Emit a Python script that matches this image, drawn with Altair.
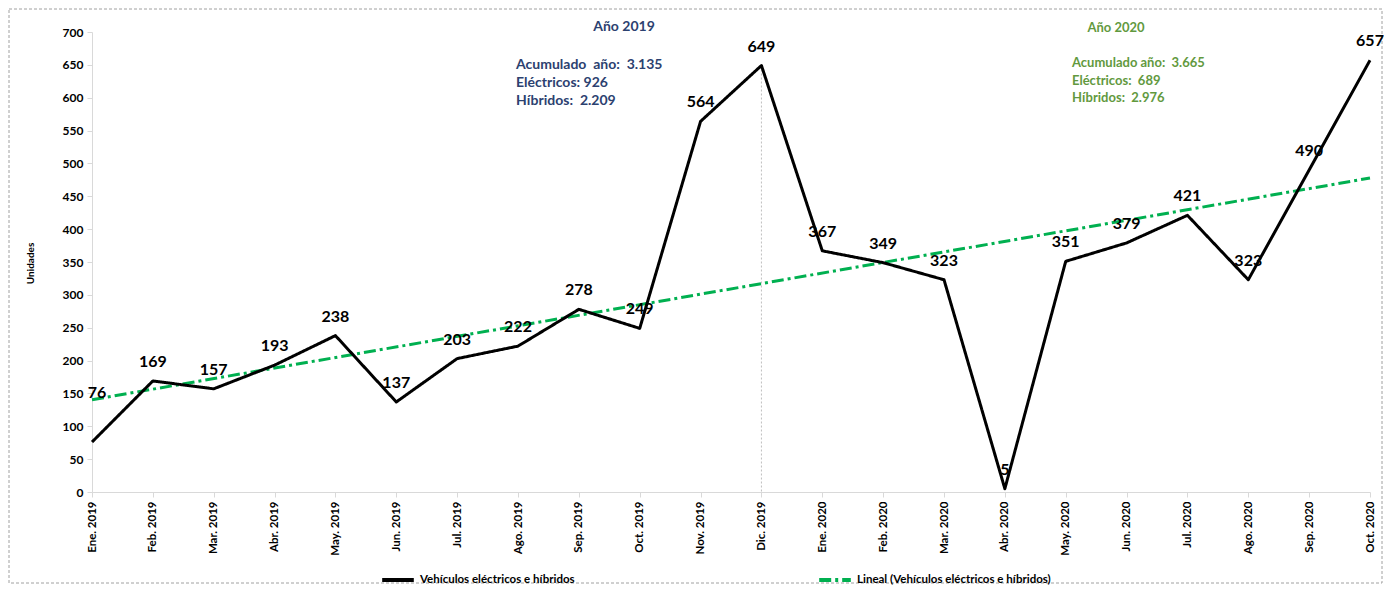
import json
import altair as alt
import pandas as pd

# ---------------- data ----------------
months = ["Ene. 2019", "Feb. 2019", "Mar. 2019", "Abr. 2019", "May. 2019", "Jun. 2019",
          "Jul. 2019", "Ago. 2019", "Sep. 2019", "Oct. 2019", "Nov. 2019", "Dic. 2019",
          "Ene. 2020", "Feb. 2020", "Mar. 2020", "Abr. 2020", "May. 2020", "Jun. 2020",
          "Jul. 2020", "Ago. 2020", "Sep. 2020", "Oct. 2020"]
values = [76, 169, 157, 193, 238, 137, 203, 222, 278, 249, 564, 649,
          367, 349, 323, 5, 351, 379, 421, 323, 490, 657]
serie_main = "Vehículos eléctricos e híbridos"
serie_trend = "Lineal (Vehículos eléctricos e híbridos)"
drop_month_index = 11
y_ticks = list(range(0, 701, 50))
title_2019 = "Año 2019"
notes_2019 = ["Acumulado\u00a0 año:\u00a0 3.135", "Eléctricos: 926", "Híbridos:\u00a0 2.209"]
title_2020 = "Año 2020"
notes_2020 = ["Acumulado año:\u00a0 3.665", "Eléctricos:\u00a0 689", "Híbridos:\u00a0 2.976"]
y_title = "Unidades"

df = pd.DataFrame({"i": list(range(len(months))), "value": values})
one = pd.DataFrame({"a": [0]})

# ---------------- style ----------------
W, H = 1278, 460
FONT = "Lato"
NAVY = "#2C4170"
GREEN_TXT = "#62993E"
GREEN_LINE = "#00B050"
AXIS_GRAY = "#d9d9d9"

x_scale = alt.Scale(domain=[0, len(months) - 1], nice=False, zero=False)
y_scale = alt.Scale(domain=[0, 700], nice=False)
label_expr = json.dumps(months, ensure_ascii=False) + "[datum.value]"

x_axis = alt.Axis(values=list(range(len(months))), labelExpr=label_expr, labelAngle=-90,
                  title=None, grid=False, tickSize=5, tickColor=AXIS_GRAY,
                  domainColor=AXIS_GRAY, labelFont=FONT, labelFontWeight="bold",
                  labelFontSize=11.5, labelColor="#000000", labelPadding=4)
y_axis = alt.Axis(values=y_ticks, title=y_title, grid=False, tickSize=5, tickColor=AXIS_GRAY,
                  domainColor=AXIS_GRAY, labelFont=FONT, labelFontWeight="bold",
                  labelFontSize=12, labelColor="#000000", labelPadding=4,
                  titleFont=FONT, titleFontSize=10, titleFontWeight="bold",
                  titleColor="#000000", titleAngle=-90, titleX=-57, titleY=231)

color_scale = alt.Scale(domain=[serie_main, serie_trend], range=["#000000", GREEN_LINE])
dash_scale = alt.Scale(domain=[serie_main, serie_trend], range=[[1, 0], [12, 4, 3, 4]])
legend = alt.Legend(title=None, orient="none", legendX=288, legendY=530,
                    direction="horizontal", columns=2, columnPadding=236,
                    symbolType="stroke", symbolSize=1000, symbolStrokeWidth=4,
                    labelFont=FONT, labelFontSize=11.5, labelFontWeight="bold",
                    labelColor="#000000", labelLimit=400)

base = alt.Chart(df)

X = alt.X("i:Q", scale=x_scale, axis=x_axis)
Y = alt.Y("value:Q", scale=y_scale, axis=y_axis)

drop = base.transform_filter(alt.datum.i == drop_month_index).mark_rule(
    color="#bfbfbf", strokeDash=[2, 2], strokeWidth=1
).encode(x=X, y=Y, y2=alt.datum(0))

trend = base.transform_regression("i", "value").transform_calculate(
    serie=json.dumps(serie_trend, ensure_ascii=False)
).mark_line(strokeWidth=3).encode(
    x=X, y=Y,
    color=alt.Color("serie:N", scale=color_scale, legend=legend),
    strokeDash=alt.StrokeDash("serie:N", scale=dash_scale, legend=legend),
)

main = base.transform_calculate(
    serie=json.dumps(serie_main, ensure_ascii=False)
).mark_line(strokeWidth=3, strokeJoin="round").encode(
    x=X, y=Y,
    color=alt.Color("serie:N", scale=color_scale, legend=legend),
    strokeDash=alt.StrokeDash("serie:N", scale=dash_scale, legend=legend),
)

labels = base.transform_filter(alt.datum.i > 0).mark_text(
    dy=-19, fontSize=16, fontWeight="bold", font=FONT, color="#000000"
).encode(x=X, y=Y, text=alt.Text("value:Q"))

# first label sits higher and to the right, as in the original
label_first = base.transform_filter(alt.datum.i == 0).mark_text(
    dx=5, dy=-49, fontSize=16, fontWeight="bold", font=FONT, color="#000000"
).encode(x=X, y=Y, text=alt.Text("value:Q"))

ann = alt.Chart(one)
t2019 = ann.mark_text(text=title_2019, font=FONT, fontSize=14, fontWeight="bold",
                      color=NAVY, align="center", baseline="middle").encode(
    x=alt.value(532), y=alt.value(-5))
n2019 = ann.mark_text(text=notes_2019, font=FONT, fontSize=14, fontWeight="bold",
                      color=NAVY, align="left", baseline="top", lineHeight=18).encode(
    x=alt.value(424), y=alt.value(26))
t2020 = ann.mark_text(text=title_2020, font=FONT, fontSize=13, fontWeight="bold",
                      color=GREEN_TXT, align="center", baseline="middle").encode(
    x=alt.value(1024), y=alt.value(-4))
n2020 = ann.mark_text(text=notes_2020, font=FONT, fontSize=13, fontWeight="bold",
                      color=GREEN_TXT, align="left", baseline="top", lineHeight=17.5).encode(
    x=alt.value(980), y=alt.value(25))

border = ann.mark_rect(fillOpacity=0, stroke="#a0a0a0", strokeDash=[3, 2],
                       strokeWidth=1).encode(
    x=alt.value(-83), x2=alt.value(1290), y=alt.value(-23), y2=alt.value(551))

chart = alt.layer(border, drop, trend, main, labels, label_first,
                  t2019, n2019, t2020, n2020).properties(
    width=W, height=H,
    autosize=alt.AutoSizeParams(type="none"),
    padding={"left": 84, "top": 24, "right": 14, "bottom": 94},
).configure_view(stroke=None)

chart.save("out.html", embed_options={"renderer": "svg", "actions": False})
